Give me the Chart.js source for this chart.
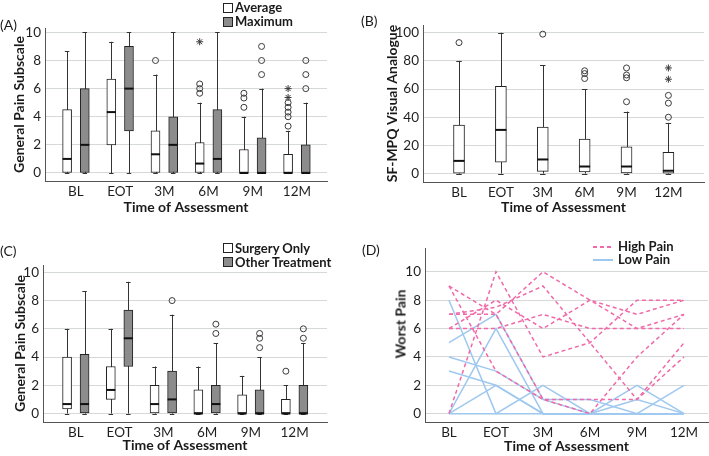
<!DOCTYPE html>
<html>
<head>
<meta charset="utf-8">
<script src="https://cdn.jsdelivr.net/npm/chart.js@4.4.1/dist/chart.umd.min.js"></script>
<style>
  body { margin: 0; background: #fff; width: 709px; height: 456px; position: relative; overflow: hidden; font-family: Lato, sans-serif; color: #1a1a1a; }
  .panel { position: absolute; }
  canvas { display: block; }
  .tag { position: absolute; font-size: 14px; line-height: 16px; }
  .lt { position: absolute; font-size: 13px; line-height: 14px; font-weight: bold; white-space: nowrap; }
  .sw { position: absolute; width: 8px; height: 8px; border: 1px solid #222; background: #fff; }
  .sw.gray { background: #8c8c8c; }
  .ln { position: absolute; width: 20px; height: 2px; }
  .ytitle { position: absolute; font-size: 14px; font-weight: bold; white-space: nowrap; transform: translate(-50%, -50%) rotate(-90deg); }
</style>
</head>
<body>
<div class="panel" style="left:0;top:0"><canvas id="cA" width="355" height="225"></canvas></div>
<div class="panel" style="left:355px;top:0"><canvas id="cB" width="354" height="225"></canvas></div>
<div class="panel" style="left:0;top:225px"><canvas id="cC" width="355" height="231"></canvas></div>
<div class="panel" style="left:355px;top:225px"><canvas id="cD" width="354" height="231"></canvas></div>

<div class="tag" style="left:0;top:17px">(A)</div>
<div class="tag" style="left:361px;top:13px">(B)</div>
<div class="tag" style="left:0;top:243px">(C)</div>
<div class="tag" style="left:362px;top:242px">(D)</div>

<div class="sw" style="left:223px;top:3px"></div><div class="lt" style="left:235px;top:0">Average</div>
<div class="sw gray" style="left:223px;top:17px"></div><div class="lt" style="left:235px;top:14px">Maximum</div>

<div class="sw" style="left:223px;top:243px"></div><div class="lt" style="left:235px;top:241px">Surgery Only</div>
<div class="sw gray" style="left:223px;top:257px"></div><div class="lt" style="left:235px;top:255px">Other Treatment</div>

<div class="ln" style="left:593px;top:246px;background:repeating-linear-gradient(to right,#f06aa9 0 4px,transparent 4px 7px)"></div>
<div class="lt" style="left:618px;top:239px">High Pain</div>
<div class="ln" style="left:593px;top:259px;background:#9fc8f0"></div>
<div class="lt" style="left:618px;top:252px">Low Pain</div>
<div class="ytitle" style="left:400px;top:324px">Worst Pain</div>

<script>
// time points
const cats = ['BL', 'EOT', '3M', '6M', '9M', '12M'];

// box stats per time point: [low whisker, Q1, median, Q3, high whisker]
const aAverage = [[0, 0, 1, 4.5, 8.67], [0, 2, 4.33, 6.67, 9.33], [0, 0, 1.33, 3, 7], [0, 0, 0.67, 2.17, 5], [0, 0, 0, 1.67, 4], [0, 0, 0, 1.33, 3]];
const aAverageOut = [[], [], [8], [6.33, 6, 5.67], [5.67, 5.33, 4.67], [5, 4.67, 4.33, 4, 3.33]];
const aAverageExt = [[], [], [], [9.33], [], [6, 5.37]];
const aMaximum = [[0, 0, 2, 6, 10], [0, 3, 6, 9, 10], [0, 0, 2, 4, 10], [0, 0, 1, 4.5, 10], [0, 0, 0, 2.5, 6], [0, 0, 0, 2, 5]];
const aMaximumOut = [[], [], [], [], [9, 8, 7], [8, 7, 6]];

const bVas = [[0, 0, 9, 34.5, 80], [0, 8, 31, 62, 100], [0, 1.5, 10, 33, 77], [0, 1.2, 5, 24.5, 60], [0, 0.5, 5, 19, 44], [0, 0.3, 2, 15, 36]];
const bVasOut = [[93], [], [99], [73, 71, 67.5], [75, 70, 68, 51], [55.5, 50, 40]];
const bVasExt = [[], [], [], [], [], [75, 67]];

const cSurgery = [[0, 0.33, 0.67, 4, 6], [0, 1, 1.67, 3.33, 6], [0, 0, 0.67, 2, 3.33], [0, 0, 0, 1.67, 3.33], [0, 0, 0, 1.33, 2.67], [0, 0, 0, 1, 2]];
const cSurgeryOut = [[], [], [], [], [], [3]];
const cOther = [[0, 0, 0.67, 4.2, 8.67], [0, 3.33, 5.33, 7.33, 9.33], [0, 0, 1, 3, 7], [0, 0, 0.67, 2, 5], [0, 0, 0, 1.67, 4], [0, 0, 0, 2, 5]];
const cOtherOut = [[], [], [8], [6.33, 5.67], [5.67, 5.33, 4.67], [6, 5.33]];

// worst pain trajectories
const highPain = [
  [9, 7, 1, 1, 1, 4],
  [9, 3, 1, 0, 4, 7],
  [7, 7, 10, 8, 7, 8],
  [6, 8, 6, 8, 6, 6],
  [0, 10, 4, 5, 8, 8],
  [6, 6, 7, 6, 6, 7],
  [7, 7.5, 9, 5, 1, 5]
];
const lowPain = [
  [8, 0, 0, 0, 0, 0],
  [5, 7, 1, 0, 2, 0],
  [4, 3, 1, 1, 0, 2],
  [3, 2, 0, 0, 0, 0],
  [0, 6, 0, 0, 1, 0],
  [0, 2, 0, 0, 0, 0],
  [0, 0, 2, 0, 0, 0]
];

const painTicks = [0, 2, 4, 6, 8, 10];
const vasTicks = [0, 20, 40, 60, 80, 100];

Chart.defaults.font.family = 'Lato, sans-serif';
Chart.defaults.font.size = 13.5;
Chart.defaults.color = '#1f1f1f';
Chart.defaults.animation = false;
Chart.defaults.events = [];
Chart.defaults.plugins.legend.display = false;
Chart.defaults.plugins.tooltip.enabled = false;

const GRID = '#d5d9d9';
const AXIS = '#555';
const titleFont = { size: 14, weight: 'bold' };

// whiskers behind the boxes, medians on top
const boxParts = {
  id: 'boxParts',
  beforeDatasetsDraw(chart) { drawParts(chart, false); },
  afterDatasetsDraw(chart) { drawParts(chart, true); }
};
function drawParts(chart, medians) {
  const ctx = chart.ctx, y = chart.scales.y;
  chart.data.datasets.forEach((ds, di) => {
    if (!ds.stats) return;
    const bars = chart.getDatasetMeta(di).data;
    ds.stats.forEach((s, i) => {
      const bar = bars[i];
      const cx = bar.x, w = bar.width;
      ctx.save();
      ctx.beginPath();
      if (!medians) {
        const px = Math.round(cx) + 0.5;
        ctx.strokeStyle = '#333';
        ctx.lineWidth = 1;
        ctx.moveTo(px, y.getPixelForValue(s[0]));
        ctx.lineTo(px, y.getPixelForValue(s[4]));
        [s[0], s[4]].forEach(v => {
          const py = Math.round(y.getPixelForValue(v)) + 0.5;
          ctx.moveTo(cx - w / 4, py);
          ctx.lineTo(cx + w / 4, py);
        });
      } else {
        const py = y.getPixelForValue(s[2]);
        ctx.strokeStyle = '#111';
        ctx.lineWidth = 2;
        ctx.moveTo(cx - w / 2, py);
        ctx.lineTo(cx + w / 2, py);
      }
      ctx.stroke();
      ctx.restore();
    });
  });
}

function points(lists, off) {
  return lists.flatMap((vals, i) => vals.map(v => ({ x: i + off, y: v })));
}

function boxSeries(stats, out, ext, off, fill, thick) {
  return [
    {
      type: 'bar', stats, data: stats.map((s, i) => ({ x: i + off, y: [s[1], s[3]] })),
      backgroundColor: fill, borderColor: '#222', borderWidth: 1, borderSkipped: false,
      barThickness: thick, grouped: false, order: 2
    },
    {
      type: 'scatter', data: points(out, off), pointStyle: 'circle', pointRadius: 3,
      borderColor: '#3a3a3a', backgroundColor: 'rgba(0,0,0,0)', pointBorderWidth: 1, order: 1
    },
    {
      type: 'scatter', data: points(ext, off), pointStyle: 'star', pointRadius: 3.5,
      borderColor: '#3a3a3a', backgroundColor: 'rgba(0,0,0,0)', pointBorderWidth: 1, order: 1
    }
  ];
}

function xAxis(min, max, height, titlePad) {
  return {
    type: 'linear', min, max, offset: false,
    afterBuildTicks: s => { s.ticks = cats.map((c, i) => ({ value: i })); },
    afterFit: s => { s.height = height; },
    ticks: { callback: v => cats[v], padding: 3, autoSkip: false, maxRotation: 0 },
    grid: { drawOnChartArea: false, drawTicks: false },
    border: { color: AXIS, width: 1 },
    title: { display: true, text: 'Time of Assessment', font: titleFont, color: '#1a1a1a', padding: { top: 0, bottom: titlePad } }
  };
}

function yAxis(min, max, tickVals, width, title, titlePad) {
  return {
    type: 'linear', min, max,
    afterBuildTicks: s => { s.ticks = tickVals.map(v => ({ value: v })); },
    afterFit: s => { s.width = width; },
    ticks: { padding: 4 },
    grid: { color: GRID, drawTicks: false },
    border: { color: AXIS, width: 1 },
    title: { display: !!title, text: title, font: titleFont, color: '#1a1a1a', padding: { top: titlePad, bottom: 0 } }
  };
}

function boxChart(id, datasets, opts) {
  return new Chart(document.getElementById(id), {
    type: 'bar',
    data: { datasets },
    options: {
      responsive: false,
      layout: { padding: opts.padding },
      scales: { x: opts.x, y: opts.y }
    },
    plugins: [boxParts]
  });
}

boxChart('cA', [
  ...boxSeries(aAverage, aAverageOut, aAverageExt, -0.2, '#ffffff', 9),
  ...boxSeries(aMaximum, aMaximumOut, cats.map(() => []), 0.2, '#8c8c8c', 9)
], {
  padding: { top: 28, right: 28, left: 0, bottom: 0 },
  x: xAxis(-0.70, 5.68, 44, 9),
  y: yAxis(-0.57, 10.31, painTicks, 45, 'General Pain Subscale', 11)
});

boxChart('cB', [
  ...boxSeries(bVas, bVasOut, bVasExt, 0, '#ffffff', 11)
], {
  padding: { top: 25, right: 2, left: 0, bottom: 0 },
  x: xAxis(-0.86, 5.85, 43, 9),
  y: yAxis(-6, 105.5, vasTicks, 68, 'SF-MPQ Visual Analogue', 29)
});

boxChart('cC', [
  ...boxSeries(cSurgery, cSurgeryOut, cats.map(() => []), -0.2, '#ffffff', 9),
  ...boxSeries(cOther, cOtherOut, cats.map(() => []), 0.2, '#8c8c8c', 9)
], {
  padding: { top: 40, right: 28, left: 0, bottom: 0 },
  x: xAxis(-0.75, 5.74, 34, 2),
  y: yAxis(-0.6, 10.52, painTicks, 43, 'General Pain Subscale', 12)
});

const lineSet = (vals, color, dash) => ({
  data: vals.map((v, i) => ({ x: i, y: v })),
  borderColor: color, borderWidth: 1.5, borderDash: dash,
  pointRadius: 0, fill: false, tension: 0
});

new Chart(document.getElementById('cD'), {
  type: 'line',
  data: {
    datasets: [
      ...highPain.map(v => lineSet(v, '#f06aa9', [4, 3])),
      ...lowPain.map(v => lineSet(v, '#9fc8f0', []))
    ]
  },
  options: {
    responsive: false,
    layout: { padding: { top: 23, right: 1, left: 0, bottom: 0 } },
    scales: {
      x: xAxis(-0.51, 5.51, 34, 1),
      y: yAxis(-0.59, 11.68, painTicks, 70, '', 0)
    }
  }
});
</script>
</body>
</html>
